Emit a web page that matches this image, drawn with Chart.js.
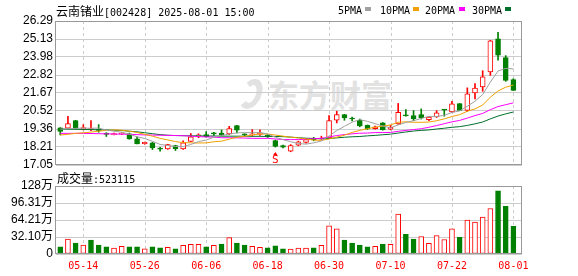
<!DOCTYPE html>
<html>
<head>
<meta charset="utf-8">
<script src="https://cdn.jsdelivr.net/npm/chart.js@4.4.0/dist/chart.umd.min.js"></script>
<style>
  body { margin: 0; background: #fff; width: 578px; height: 276px; overflow: hidden; position: relative; }
  .t { position: absolute; font-family: "Noto Sans CJK SC", sans-serif; font-size: 12px; line-height: 14px; color: #000; white-space: nowrap; }
  .m { font-family: "DejaVu Sans Mono", monospace; font-size: 10px; }
  .box { position: absolute; width: 6px; height: 4px; top: 7px; }
  #wm { position: absolute; left: 240px; top: 77px; font-family: "Noto Sans CJK SC", sans-serif; font-weight: bold; font-size: 31px; line-height: 34px; color: #e2e2e2; white-space: nowrap; }
  #wm span { display: inline-block; width: 10px; height: 18px; border: 6px solid #e2e2e2; border-left-color: transparent; border-radius: 50%; transform: skewX(-15deg); margin-right: 6px; vertical-align: -2px; }
  canvas { position: absolute; left: 0; }
</style>
</head>
<body>
<div id="wm"><span></span>东方财富</div>
<canvas id="kline" width="578" height="178" style="top:0"></canvas>
<canvas id="volume" width="578" height="106" style="top:170px"></canvas>

<div class="t" style="left:56px;top:4px">云南锗业<span class="m">[002428] 2025-08-01 15:00</span></div>
<div class="t m" style="left:338px;top:4px">5PMA</div><div class="box" style="left:365px;background:#a0a0a0"></div>
<div class="t m" style="left:380px;top:4px">10PMA</div><div class="box" style="left:413px;background:#f0a000"></div>
<div class="t m" style="left:425px;top:4px">20PMA</div><div class="box" style="left:459px;background:#ff00ff"></div>
<div class="t m" style="left:472px;top:4px">30PMA</div><div class="box" style="left:505px;background:#006f2c"></div>
<div class="t" style="left:57px;top:171px">成交量<span class="m">:523115</span></div>

<script>
const dates = ['05-09','05-12','05-13','05-14','05-15','05-16','05-19','05-20','05-21','05-22',
  '05-23','05-26','05-27','05-28','05-29','05-30','06-03','06-04','06-05','06-06',
  '06-09','06-10','06-11','06-12','06-13','06-16','06-17','06-18','06-19','06-20',
  '06-23','06-24','06-25','06-26','06-27','06-30','07-01','07-02','07-03','07-04',
  '07-07','07-08','07-09','07-10','07-11','07-14','07-15','07-16','07-17','07-18',
  '07-21','07-22','07-23','07-24','07-25','07-28','07-29','07-30','07-31','08-01'];
const tickDates = ['05-14','05-26','06-06','06-18','06-30','07-10','07-22','08-01'];

const open  = [19.43,19.41,19.90,19.38,19.33,19.32,19.10,19.00,19.04,19.05,18.73,18.42,18.47,18.10,18.08,18.30,18.08,18.57,18.92,19.00,
               19.07,19.10,19.05,19.58,19.02,18.98,19.02,18.95,18.62,18.30,17.93,18.32,18.50,18.78,18.72,18.79,19.92,20.28,20.05,19.92,
               19.60,19.38,19.75,19.35,19.69,20.25,20.22,20.28,19.96,20.14,20.60,20.46,20.99,20.56,21.67,22.06,23.02,25.14,23.94,22.53];
const high  = [19.45,20.17,19.92,19.64,19.90,19.64,19.12,19.10,19.12,19.10,18.85,18.52,18.50,18.19,18.38,18.32,18.60,19.07,19.05,19.19,
               19.15,19.30,19.53,19.60,19.05,19.32,19.30,19.00,18.65,18.33,18.36,18.58,18.72,18.82,18.90,20.22,20.50,20.30,20.12,20.00,
               19.62,19.55,19.77,19.60,21.00,20.60,20.54,20.65,20.15,20.54,20.62,21.14,21.00,22.00,22.27,23.10,25.05,25.56,24.07,22.59];
const low   = [18.98,19.38,19.36,19.30,19.26,19.15,18.88,18.98,19.00,18.70,18.40,18.38,18.04,17.93,18.05,17.98,18.05,18.55,18.80,18.84,
               18.95,18.92,19.00,19.11,18.92,18.90,18.95,18.82,18.20,18.15,17.90,18.28,18.45,18.60,18.70,18.75,19.75,19.92,19.88,19.50,
               19.33,19.35,19.28,19.30,19.65,20.18,19.90,20.00,19.90,20.10,20.18,20.40,20.55,20.50,21.29,21.78,22.80,23.77,22.42,21.82];
const close = [19.21,19.71,19.39,19.42,19.33,19.27,19.02,19.05,19.07,18.73,18.41,18.50,18.15,18.07,18.36,18.10,18.47,18.85,18.96,18.86,
               19.05,18.96,19.38,19.28,18.98,19.01,19.05,18.88,18.25,18.20,18.30,18.53,18.68,18.66,18.76,19.90,20.28,20.07,20.00,19.55,
               19.37,19.50,19.32,19.47,20.43,20.20,20.03,20.07,20.12,20.39,20.57,20.97,20.56,21.61,21.99,22.70,25.01,24.09,22.48,21.84];

// volume, in 万 shares
const vol = [13.4,28.0,20.7,17.0,26.2,17.0,13.4,11.0,14.6,13.4,13.4,9.8,13.4,11.6,12.8,9.8,16.5,18.3,18.3,13.4,
             16.5,18.9,31.0,20.7,17.0,14.6,12.8,11.6,15.2,9.8,9.1,11.0,11.0,11.6,16.5,53.0,47.6,26.2,20.7,17.0,
             13.4,14.6,18.9,18.3,75.6,37.2,28.0,33.0,20.0,34.8,27.4,47.6,31.7,64.0,60.4,69.5,86.0,119.5,90.0,52.31];

const ma5  = [19.35,19.38,19.40,19.42,19.41,19.42,19.29,19.22,19.15,19.03,18.86,18.75,18.57,18.37,18.30,18.24,18.23,18.37,18.55,18.65,
              18.84,18.94,19.04,19.11,19.13,19.12,19.14,19.04,18.83,18.68,18.54,18.43,18.39,18.47,18.59,18.91,19.26,19.53,19.80,19.96,
              19.85,19.70,19.55,19.44,19.62,19.78,19.89,20.04,20.17,20.16,20.24,20.42,20.52,20.82,21.14,21.57,22.37,23.08,23.25,23.22];
const ma10 = [18.97,19.02,19.08,19.12,19.16,19.22,19.27,19.30,19.28,19.22,19.14,19.02,18.90,18.76,18.66,18.55,18.49,18.47,18.46,18.47,
              18.54,18.58,18.71,18.83,18.89,18.98,19.04,19.04,18.97,18.90,18.83,18.79,18.72,18.65,18.63,18.72,18.84,18.96,19.14,19.27,
              19.38,19.48,19.54,19.62,19.79,19.82,19.79,19.79,19.81,19.89,20.01,20.16,20.28,20.50,20.65,20.90,21.40,21.80,22.04,22.18];
const ma20 = [19.08,19.08,19.08,19.08,19.07,19.06,19.05,19.04,19.03,19.02,19.00,18.98,18.97,18.96,18.95,18.94,18.93,18.90,18.87,18.85,
              18.84,18.80,18.80,18.79,18.78,18.76,18.76,18.76,18.72,18.69,18.68,18.68,18.71,18.74,18.76,18.85,18.94,19.00,19.05,19.09,
              19.10,19.13,19.13,19.14,19.21,19.27,19.32,19.38,19.47,19.58,19.70,19.82,19.91,20.06,20.22,20.36,20.60,20.80,20.92,21.04];
const ma30 = [19.35,19.35,19.34,19.33,19.32,19.31,19.30,19.28,19.26,19.22,19.18,19.12,19.06,19.00,18.96,18.94,18.93,18.92,18.92,18.91,
              18.91,18.90,18.90,18.90,18.90,18.89,18.89,18.88,18.88,18.87,18.84,18.80,18.77,18.75,18.73,18.75,18.79,18.83,18.86,18.88,
              18.92,18.95,18.99,19.03,19.10,19.17,19.23,19.27,19.30,19.36,19.41,19.47,19.51,19.59,19.69,19.81,20.01,20.19,20.33,20.45];

const priceTicks = [17.05, 18.21, 19.36, 20.52, 21.67, 22.82, 23.98, 25.13, 26.29];
const volTicks = [0, 32.10, 64.21, 96.31, 128.42];
const volTickLabels = ['0', '32.10万', '64.21万', '96.31万', '128万'];
const sellDays = ['06-19'];

const RED = '#ff0000', GREEN = '#008000', GRID = '#cccccc';
const candleUp = i => close[i] >= open[i];
const volUp = i => i === 0 ? close[i] >= open[i] : close[i] > close[i - 1];
const dateTicks = tickDates.map(d => dates.indexOf(d));

const xAxis = (showLabels) => ({
  type: 'linear', min: -0.555, max: 60.12, offset: false, bounds: 'ticks',
  afterBuildTicks: a => { a.ticks = dateTicks.map(v => ({ value: v })); },
  afterFit: a => { a.height = showLabels ? 22 : 0; },
  grid: { display: false, drawTicks: false },
  border: { display: false },
  ticks: {
    display: showLabels, autoSkip: false, maxRotation: 0, padding: 6, color: RED,
    font: { family: 'DejaVu Sans Mono', size: 10 },
    callback: v => dates[v]
  }
});

// dashed vertical grid at the date ticks, plus the grey frame
const frame = {
  id: 'frame',
  beforeDatasetsDraw(c) {
    const a = c.chartArea, g = c.ctx;
    g.save();
    g.strokeStyle = GRID;
    g.lineWidth = 1;
    g.setLineDash([3, 3]);
    c.scales.x.ticks.forEach(t => {
      const x = Math.round(c.scales.x.getPixelForValue(t.value)) + 0.5;
      g.beginPath();
      g.moveTo(x, a.top);
      g.lineTo(x, a.bottom);
      g.stroke();
    });
    g.restore();
  },
  afterDraw(c) {
    const a = c.chartArea, g = c.ctx;
    g.save();
    g.strokeStyle = '#999';
    g.lineWidth = 1;
    g.strokeRect(Math.round(a.left) - 0.5, Math.round(a.top) + 0.5, Math.round(a.right - a.left), Math.round(a.bottom - a.top) - 1);
    g.restore();
  }
};

const sellMark = {
  id: 'sellMark',
  afterDatasetsDraw(c) {
    const g = c.ctx;
    sellDays.forEach(d => {
      const i = dates.indexOf(d);
      const x = c.scales.x.getPixelForValue(i);
      const y = c.scales.y.getPixelForValue(low[i]);
      g.save();
      g.fillStyle = RED;
      g.beginPath();
      g.moveTo(x, y + 5);
      g.lineTo(x - 2.5, y + 8.5);
      g.lineTo(x + 2.5, y + 8.5);
      g.closePath();
      g.fill();
      g.font = '11px "DejaVu Sans Mono"';
      g.textAlign = 'center';
      g.textBaseline = 'top';
      g.fillText('S', x, y + 8);
      g.restore();
    });
  }
};

const maLine = (label, data, color) => ({
  type: 'line', label, order: 0,
  data: data.map((v, i) => ({ x: i, y: v })),
  borderColor: color, borderWidth: 1, pointRadius: 0, tension: 0, fill: false
});

new Chart(document.getElementById('kline'), {
  type: 'bar',
  data: {
    datasets: [
      maLine('5PMA', ma5, '#a0a0a0'),
      maLine('10PMA', ma10, '#f0a000'),
      maLine('20PMA', ma20, '#ff00ff'),
      maLine('30PMA', ma30, '#006f2c'),
      {
        label: 'body', order: 1, grouped: false,
        data: open.map((o, i) => ({ x: i, y: [Math.min(o, close[i]), Math.max(o, close[i])] })),
        barThickness: 5, minBarLength: 1, borderWidth: 1, borderSkipped: false,
        backgroundColor: c => candleUp(c.dataIndex) ? '#ffffff' : GREEN,
        borderColor: c => candleUp(c.dataIndex) ? RED : GREEN
      },
      {
        label: 'wick', order: 2, grouped: false,
        data: low.map((l, i) => ({ x: i, y: [l, high[i]] })),
        barThickness: 1, borderWidth: 0,
        backgroundColor: c => candleUp(c.dataIndex) ? RED : GREEN
      }
    ]
  },
  options: {
    responsive: false, animation: false,
    layout: { padding: { left: 0, right: 56, top: 21, bottom: 13 } },
    plugins: { legend: { display: false }, tooltip: { enabled: false } },
    scales: {
      x: xAxis(false),
      y: {
        min: 17.05, max: 26.29,
        afterBuildTicks: a => { a.ticks = priceTicks.map(v => ({ value: v })); },
        afterFit: a => { a.width = 56; },
        grid: { color: GRID, drawTicks: false },
        border: { display: false },
        ticks: { autoSkip: false, padding: 3, color: '#000', font: { family: 'Liberation Sans', size: 12 }, callback: v => v.toFixed(2) }
      }
    }
  },
  plugins: [frame, sellMark]
});

new Chart(document.getElementById('volume'), {
  type: 'bar',
  data: {
    datasets: [{
      label: '成交量', grouped: false,
      data: vol.map((v, i) => ({ x: i, y: v })),
      barThickness: 5, borderWidth: 1, borderSkipped: false,
      backgroundColor: c => volUp(c.dataIndex) ? '#ffffff' : GREEN,
      borderColor: c => volUp(c.dataIndex) ? RED : GREEN
    }]
  },
  options: {
    responsive: false, animation: false,
    layout: { padding: { left: 0, right: 56, top: 16, bottom: 0 } },
    plugins: { legend: { display: false }, tooltip: { enabled: false } },
    scales: {
      x: xAxis(true),
      y: {
        min: 0, max: 128.42,
        afterBuildTicks: a => { a.ticks = volTicks.map(v => ({ value: v })); },
        afterFit: a => { a.width = 56; },
        grid: { color: GRID, drawTicks: false },
        border: { display: false },
        ticks: { autoSkip: false, padding: 3, color: '#000', font: { family: 'Liberation Sans, Noto Sans CJK SC', size: 12 }, callback: (v, i) => volTickLabels[i] }
      }
    }
  },
  plugins: [frame]
});
</script>
</body>
</html>
